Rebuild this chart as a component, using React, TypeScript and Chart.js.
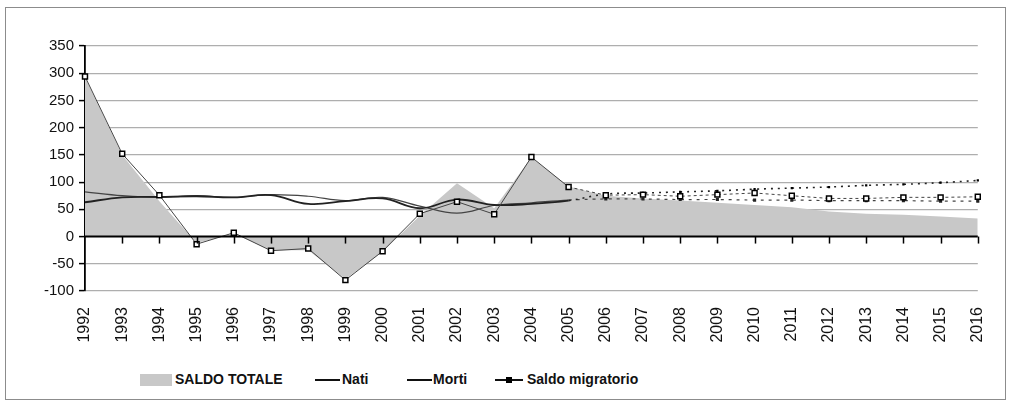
import React, { useEffect, useRef } from "react";
import { Chart, registerables } from "chart.js";

Chart.register(...registerables);

// ---- data ----
const years = [
  "1992", "1993", "1994", "1995", "1996", "1997", "1998", "1999", "2000",
  "2001", "2002", "2003", "2004", "2005", "2006", "2007", "2008", "2009",
  "2010", "2011", "2012", "2013", "2014", "2015", "2016",
];
const saldoTotale = [
  292, 150, 65, -12, 5, -25, -25, -78, -28, 38, 98, 52, 145, 92,
  75, 70, 66, 62, 58, 54, 46, 42, 40, 37, 33,
];
const nati = [
  82, 75, 72, 75, 72, 77, 74, 66, 72, 56, 43, 57, 62, 67,
  69, 69, 68, 68, 67, 67, 66, 66, 66, 65, 65,
];
const morti = [
  63, 72, 73, 74, 72, 76, 60, 65, 70, 52, 68, 58, 60, 66,
  78, 80, 82, 84, 87, 89, 91, 94, 96, 99, 103,
];
const saldoMigratorio = [
  294, 152, 76, -14, 7, -26, -22, -80, -27, 42, 64, 41, 146, 91,
  76, 77, 74, 77, 80, 75, 70, 70, 72, 72, 73,
];
const yMin = -100;
const yMax = 350;
const yStep = 50;
const legendLabels = ["SALDO TOTALE", "Nati", "Morti", "Saldo migratorio"];
const projectionFrom = 13; // index of 2005: later segments are projections

const AREA = "#c8c8c8";
const GRID = "#aeaeae";

const zeroAxisPlugin = {
  id: "zeroAxis",
  afterDatasetsDraw(chart: any) {
    const { ctx, scales } = chart;
    const x = scales.x;
    const y = scales.y;
    const y0 = y.getPixelForValue(0);
    ctx.save();
    ctx.strokeStyle = "#000";
    ctx.lineWidth = 2;
    ctx.beginPath();
    ctx.moveTo(x.left, y0);
    ctx.lineTo(x.right, y0);
    ctx.stroke();
    ctx.lineWidth = 1.5;
    for (let i = 1; i < years.length; i++) {
      const px = Math.round(x.getPixelForValue(i)) + 0.5;
      ctx.beginPath();
      ctx.moveTo(px, y0);
      ctx.lineTo(px, y0 + 7);
      ctx.stroke();
    }
    ctx.restore();
  },
};

function ChartCanvas() {
  const ref = useRef<HTMLCanvasElement | null>(null);
  useEffect(() => {
    if (!ref.current) return;
    const proj = (w: any, dash: number[]) => (ctx: any) =>
      ctx.p0DataIndex >= projectionFrom ? dash : w;
    const chart = new Chart(ref.current, {
      type: "line",
      data: {
        labels: years,
        datasets: [
          {
            label: legendLabels[3],
            data: saldoMigratorio,
            order: 1,
            borderColor: "#444",
            borderWidth: 1,
            pointStyle: "rect",
            pointRadius: 3.5,
            pointBackgroundColor: "#fff",
            pointBorderColor: "#000",
            pointBorderWidth: 1.5,
            tension: 0,
            fill: false,
            segment: { borderDash: proj(undefined, [3, 3]) },
          },
          {
            label: legendLabels[2],
            data: morti,
            order: 2,
            borderColor: "#222",
            borderWidth: 1.8,
            pointStyle: "rect",
            pointRadius: (c: any) => (c.dataIndex > projectionFrom ? 1.6 : 0),
            pointBackgroundColor: "#000",
            pointBorderWidth: 0,
            tension: 0.4,
            fill: false,
            segment: {
              borderDash: proj(undefined, [2, 5]),
              borderWidth: proj(1.8, 1.6),
            },
          },
          {
            label: legendLabels[1],
            data: nati,
            order: 3,
            borderColor: "#444",
            borderWidth: 1.2,
            pointStyle: "rect",
            pointRadius: (c: any) => (c.dataIndex > projectionFrom ? 2.2 : 0),
            pointBackgroundColor: "#222",
            pointBorderWidth: 0,
            tension: 0.4,
            fill: false,
            segment: { borderDash: proj(undefined, [3, 5]) },
          },
          {
            label: legendLabels[0],
            data: saldoTotale,
            order: 4,
            borderWidth: 0,
            borderColor: AREA,
            backgroundColor: AREA,
            pointRadius: 0,
            tension: 0,
            fill: "origin",
          },
        ],
      },
      options: {
        animation: false,
        responsive: false,
        maintainAspectRatio: false,
        layout: { padding: { top: 38, right: 20, left: 0, bottom: 0 } },
        plugins: {
          legend: { display: false },
          tooltip: { enabled: false },
          title: { display: false },
        },
        scales: {
          x: {
            type: "category",
            offset: false,
            grid: { display: false },
            border: { display: false },
            ticks: {
              autoSkip: false,
              maxRotation: 90,
              minRotation: 90,
              padding: 8,
              color: "#111",
              font: { family: "'Liberation Sans', Arial, sans-serif", size: 16 },
            },
            afterFit: (s: any) => {
              s.height = 69;
            },
          },
          y: {
            min: yMin,
            max: yMax,
            ticks: {
              stepSize: yStep,
              padding: 5,
              color: "#111",
              font: { family: "'Liberation Sans', Arial, sans-serif", size: 15 },
            },
            grid: {
              color: (c: any) => (c.tick && c.tick.value === 0 ? "rgba(0,0,0,0)" : GRID),
              lineWidth: 1.2,
              drawTicks: true,
              tickLength: 6,
              tickColor: "#000",
              tickWidth: 1.5,
            },
            border: { display: true, color: "#000", width: 1.8 },
            afterFit: (s: any) => {
              s.width = 79;
            },
          },
        },
      },
      plugins: [zeroAxisPlugin],
    });
    return () => chart.destroy();
  }, []);
  return (
    <canvas
      ref={ref}
      width={999}
      height={352}
      style={{ position: "absolute", left: 0, top: 0, width: 999, height: 352 }}
    />
  );
}

const legendFont = "bold 14px 'Liberation Sans', Arial, sans-serif";

function Legend() {
  const text = (left: number, s: string) => (
    <span
      style={{
        position: "absolute",
        left,
        top: 0,
        lineHeight: "18px",
        font: legendFont,
        color: "#111",
        whiteSpace: "nowrap",
      }}
    >
      {s}
    </span>
  );
  const line = (left: number, width: number, h: number) => (
    <div
      style={{
        position: "absolute",
        left,
        top: 9 - h / 2,
        width,
        height: h,
        background: "#111",
      }}
    />
  );
  return (
    <div style={{ position: "absolute", left: 0, top: 363, width: 999, height: 20 }}>
      <div
        style={{ position: "absolute", left: 134, top: 3, width: 32, height: 12, background: AREA }}
      />
      {text(169, legendLabels[0])}
      {line(309, 25, 1.2)}
      {text(336, legendLabels[1])}
      {line(401, 25, 1.8)}
      {text(427, legendLabels[2])}
      {line(489, 28, 1.2)}
      <div
        style={{ position: "absolute", left: 500, top: 6, width: 6, height: 6, background: "#000" }}
      />
      {text(521, legendLabels[3])}
    </div>
  );
}

export default function App() {
  return (
    <div
      style={{
        position: "absolute",
        left: 5,
        top: 7,
        width: 1001,
        height: 393,
        border: "1px solid #8c8c8c",
        boxSizing: "border-box",
        background: "#fff",
        overflow: "hidden",
      }}
    >
      <ChartCanvas />
      <Legend />
    </div>
  );
}
